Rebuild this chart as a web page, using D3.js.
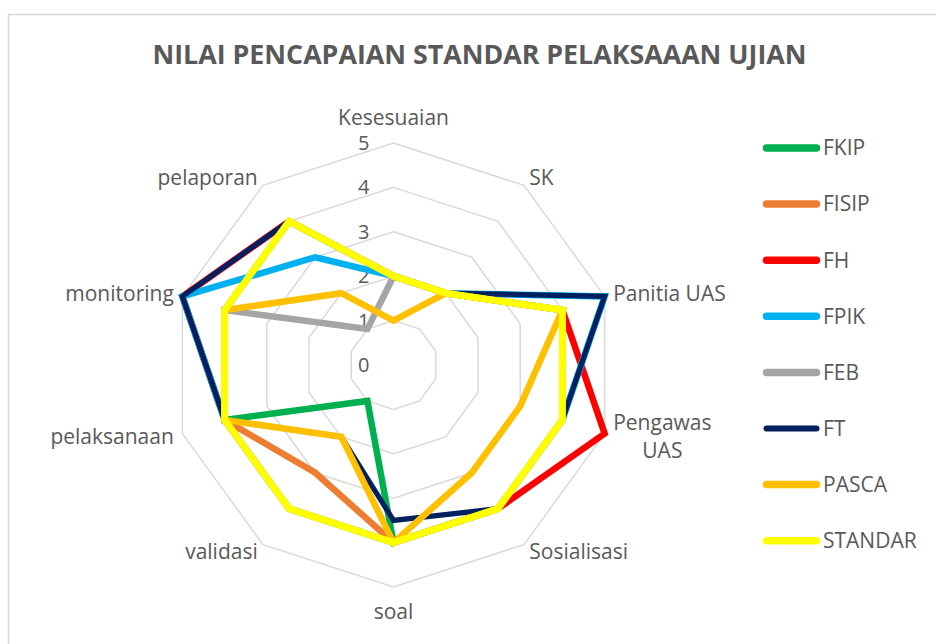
<!DOCTYPE html>
<html>
<head>
<meta charset="utf-8">
<script src="https://cdn.jsdelivr.net/npm/d3@7"></script>
<style>
  html, body { margin: 0; padding: 0; background: #fff; }
  svg { display: block; }
  text { font-family: "Open Sans", "Noto Sans", sans-serif; fill: #595959; }
</style>
</head>
<body>
<svg id="chart" width="936" height="644"></svg>
<script>
// ---- data ----
const chartTitle = "NILAI PENCAPAIAN STANDAR PELAKSAAAN UJIAN";
const categories = ["Kesesuaian", "SK", "Panitia UAS", "Pengawas UAS", "Sosialisasi",
                    "soal", "validasi", "pelaksanaan", "monitoring", "pelaporan"];
const tickValues = [0, 1, 2, 3, 4, 5];
const seriesNames = ["FKIP", "FISIP", "FH", "FPIK", "FEB", "FT", "PASCA", "STANDAR"];
const FKIP    = [2, 2, 4, 4, 4, 4,   1, 4, 4, 4];
const FISIP   = [2, 2, 4, 4, 4, 4,   3, 4, 4, 4];
const FH      = [2, 2, 4, 5, 4, 4,   4, 4, 5, 4];
const FPIK    = [2, 2, 5, 4, 4, 4,   4, 4, 5, 3];
const FEB     = [2, 2, 4, 4, 4, 4,   4, 4, 4, 1];
const FT      = [2, 2, 5, 4, 4, 3.5, 2, 4, 5, 4];
const PASCA   = [1, 2, 4, 3, 3, 4,   2, 4, 4, 2];
const STANDAR = [2, 2, 4, 4, 4, 4,   4, 4, 4, 4];
const seriesValues = [FKIP, FISIP, FH, FPIK, FEB, FT, PASCA, STANDAR];
const seriesColors = ["#00B050", "#ED7D31", "#FF0000", "#00B0F0", "#A5A5A5", "#002060", "#FFC000", "#FFFF00"];
const seriesWidths = [6.5, 6.5, 6.5, 6.5, 6.5, 5.2, 6.5, 7];

// ---- layout ----
const svg = d3.select("#chart");
const cx = 393.5, cy = 365, R = 222;
const n = categories.length;
const angle = i => i * 2 * Math.PI / n;
const r = d3.scaleLinear().domain([0, 5]).range([0, R]);
const labelFont = 21;

// chart border
svg.append("rect")
  .attr("x", 8.5).attr("y", 14.5)
  .attr("width", 960).attr("height", 660)
  .attr("fill", "none").attr("stroke", "#D9D9D9").attr("stroke-width", 1.5);

// title
svg.append("text")
  .attr("x", 479.5).attr("y", 64)
  .attr("text-anchor", "middle")
  .attr("font-size", 26).attr("font-weight", "bold")
  .attr("textLength", 654).attr("lengthAdjust", "spacingAndGlyphs")
  .text(chartTitle);

const g = svg.append("g").attr("transform", `translate(${cx},${cy})`);

// grid rings
const ringLine = d3.lineRadial().curve(d3.curveLinearClosed);
tickValues.filter(v => v > 0).forEach(v => {
  g.append("path")
    .attr("d", ringLine(categories.map((c, i) => [angle(i), r(v)])))
    .attr("fill", "none").attr("stroke", "#D9D9D9").attr("stroke-width", 1.5);
});

// tick labels
g.selectAll("text.tick").data(tickValues).join("text")
  .attr("class", "tick")
  .attr("x", -24).attr("y", d => -r(d))
  .attr("dy", "0.35em")
  .attr("text-anchor", "end")
  .attr("font-size", 20)
  .text(d => d);

// series
const line = d3.lineRadial()
  .angle((d, i) => angle(i))
  .radius(d => r(d))
  .curve(d3.curveLinearClosed);

seriesValues.forEach((vals, s) => {
  g.append("path")
    .attr("d", line(vals))
    .attr("fill", "none")
    .attr("stroke", seriesColors[s])
    .attr("stroke-width", seriesWidths[s])
    .attr("stroke-linejoin", "miter");
});

// category labels
const maxLabelWidth = 135;
categories.forEach((c, i) => {
  const a = angle(i);
  const s = Math.sin(a), co = Math.cos(a);
  const fs = labelFont;
  let anchor, lx, ly;
  if (Math.abs(s) < 0.01) {
    anchor = "middle";
    lx = 0;
    ly = -(R + 25) * co;
  } else {
    anchor = s > 0 ? "start" : "end";
    lx = (R + 9) * s;
    ly = -(R + 9) * co;
  }
  const t = g.append("text").attr("font-size", fs).attr("text-anchor", anchor)
    .attr("x", lx).attr("y", ly).attr("dy", "0.35em").text(c);
  const w = t.node().getComputedTextLength();
  if (w > maxLabelWidth) {
    t.remove();
    const words = c.split(" ");
    const lh = 28;
    const tmp = words.map(wd => {
      const tt = g.append("text").attr("font-size", fs).text(wd);
      const ww = tt.node().getComputedTextLength();
      tt.remove();
      return ww;
    });
    const blockW = d3.max(tmp);
    const x0 = anchor === "start" ? lx : (anchor === "end" ? lx - blockW : lx - blockW / 2);
    words.forEach((wd, k) => {
      g.append("text").attr("font-size", fs).attr("text-anchor", "middle")
        .attr("x", x0 + blockW / 2)
        .attr("y", ly + (k - (words.length - 1) / 2) * lh)
        .attr("dy", "0.35em").text(wd);
    });
  }
});

// legend
const legend = svg.append("g");
seriesNames.forEach((name, s) => {
  const y = 148 + s * 56.1;
  legend.append("line")
    .attr("x1", 766.5).attr("x2", 816.5).attr("y1", y).attr("y2", y)
    .attr("stroke", seriesColors[s])
    .attr("stroke-width", s === 5 ? 6 : 7.5)
    .attr("stroke-linecap", "round");
  legend.append("text")
    .attr("x", 823).attr("y", y).attr("dy", "0.35em")
    .attr("font-size", labelFont)
    .text(name);
});
</script>
</body>
</html>
